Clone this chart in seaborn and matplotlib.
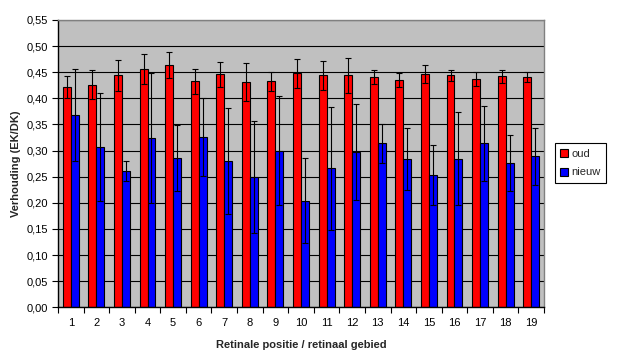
import numpy as np
import pandas as pd
import matplotlib
matplotlib.use("Agg")
import matplotlib.pyplot as plt
from matplotlib.ticker import FuncFormatter, MultipleLocator, FixedLocator
from matplotlib.lines import Line2D
import seaborn as sns

# data
posities = [str(i) for i in range(1, 20)]
oud = [0.421, 0.426, 0.444, 0.456, 0.464, 0.433, 0.446, 0.431, 0.433, 0.448,
       0.444, 0.444, 0.441, 0.435, 0.446, 0.444, 0.437, 0.442, 0.441]
oud_sd = [0.021, 0.028, 0.030, 0.028, 0.025, 0.024, 0.024, 0.036, 0.018, 0.028,
          0.028, 0.033, 0.014, 0.014, 0.017, 0.010, 0.013, 0.012, 0.010]
nieuw = [0.368, 0.307, 0.261, 0.324, 0.286, 0.326, 0.280, 0.250, 0.300, 0.204,
         0.266, 0.297, 0.314, 0.284, 0.253, 0.284, 0.314, 0.276, 0.289]
nieuw_sd = [0.088, 0.104, 0.020, 0.124, 0.063, 0.075, 0.102, 0.107, 0.105, 0.081,
            0.118, 0.092, 0.037, 0.060, 0.057, 0.089, 0.072, 0.054, 0.055]

groepen = ["oud", "nieuw"]
kleuren = {"oud": "#FF0000", "nieuw": "#0000FF"}

df = pd.DataFrame({
    "positie": posities * 2,
    "groep": ["oud"] * len(posities) + ["nieuw"] * len(posities),
    "waarde": oud + nieuw,
})

sns.set_theme(style="white")
plt.rcParams["font.family"] = ["Liberation Sans", "DejaVu Sans"]

fig = plt.figure(figsize=(6.17, 3.6), dpi=100)
ax = fig.add_axes([58 / 617, 1 - 307.3 / 360, (544 - 58) / 617, (307.3 - 20) / 360])
ax.set_facecolor("#C0C0C0")

sns.barplot(data=df, x="positie", y="waarde", hue="groep", hue_order=groepen,
            palette=kleuren, saturation=1, width=0.62, gap=0, edgecolor="black",
            linewidth=0.8, legend=False, errorbar=None, ax=ax, zorder=2)

# error bars at the bar centres
for cont, sd in zip(ax.containers, [oud_sd, nieuw_sd]):
    xs = [b.get_x() + b.get_width() / 2 for b in cont]
    ys = [b.get_height() for b in cont]
    ax.errorbar(xs, ys, yerr=sd, fmt="none", ecolor="black", elinewidth=0.8,
                capsize=2.3, capthick=0.8, zorder=3)

ax.set_xlim(-0.5, len(posities) - 0.5)
ax.set_ylim(0, 0.55)
ax.yaxis.set_major_locator(MultipleLocator(0.05))
ax.yaxis.set_major_formatter(FuncFormatter(lambda v, p: f"{v:.2f}".replace(".", ",")))
ax.grid(axis="y", color="black", linewidth=0.8)
ax.set_axisbelow(True)

ax.xaxis.set_minor_locator(FixedLocator(np.arange(-0.5, len(posities), 1.0)))
ax.tick_params(axis="x", which="major", length=0, pad=8, labelsize=8, colors="black")
ax.tick_params(axis="x", which="minor", length=4, width=0.8, direction="out", color="black", bottom=True)
ax.tick_params(axis="y", which="major", length=4, width=0.8, direction="out", pad=3,
               labelsize=8, left=True, colors="black")

for side in ["top", "right"]:
    ax.spines[side].set_color("#808080")
    ax.spines[side].set_linewidth(1)
for side in ["left", "bottom"]:
    ax.spines[side].set_color("black")
    ax.spines[side].set_linewidth(1)

ax.set_xlabel("Retinale positie / retinaal gebied", fontsize=8, fontweight="bold", labelpad=8)
ax.set_ylabel("Verhouding (EK/DK)", fontsize=8, fontweight="bold", labelpad=4.5)

handles = [Line2D([], [], linestyle="none", marker="s", markersize=6,
                  markerfacecolor=kleuren[g], markeredgecolor="black", markeredgewidth=0.8)
           for g in groepen]
leg = fig.legend(handles, groepen, loc="upper left",
                 bbox_to_anchor=(555 / 617, 1 - 143 / 360), fontsize=8,
                 frameon=True, fancybox=False, framealpha=1, edgecolor="black",
                 handlelength=0.7, handletextpad=0.3, labelspacing=0.8,
                 borderpad=0.5, borderaxespad=0)
leg.get_frame().set_linewidth(0.8)

fig.savefig("out.png", dpi=100)
